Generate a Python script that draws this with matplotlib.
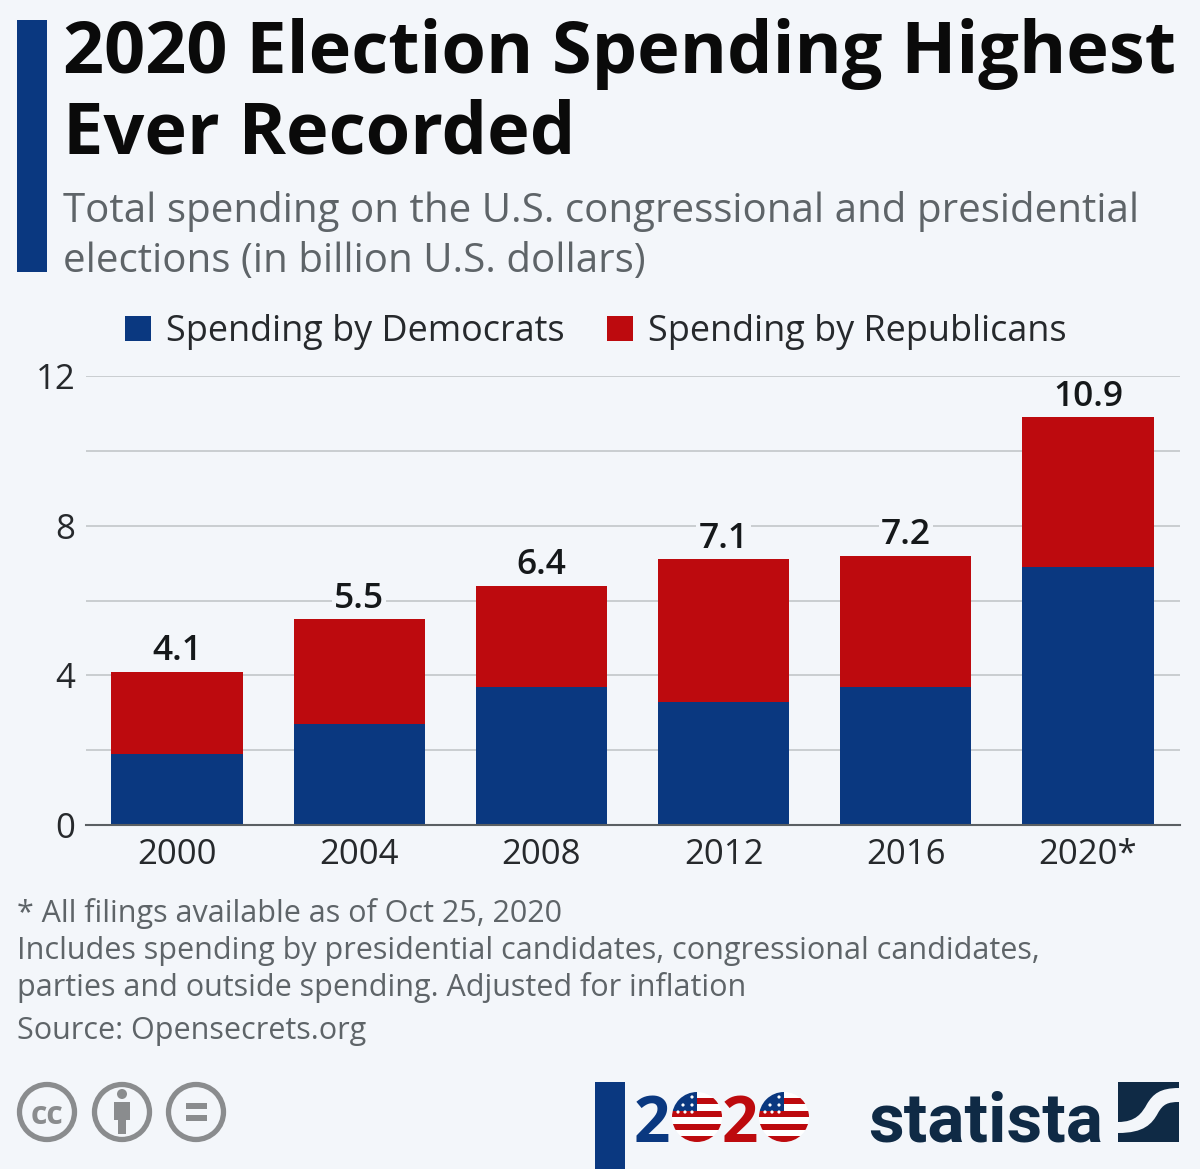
import matplotlib
matplotlib.use('Agg')
import numpy as np
import matplotlib.pyplot as plt
from matplotlib.patches import Rectangle, Circle, PathPatch
from matplotlib.path import Path

plt.rcParams['font.family'] = ['Open Sans', 'DejaVu Sans']

# data
years = ['2000', '2004', '2008', '2012', '2016', '2020*']
democrats = [1.9, 2.7, 3.7, 3.3, 3.7, 6.9]
republicans = [2.2, 2.8, 2.7, 3.8, 3.5, 4.0]
totals = ['4.1', '5.5', '6.4', '7.1', '7.2', '10.9']
y_ticks = [0, 2, 4, 6, 8, 10, 12]
y_labels = ['0', '', '4', '', '8', '', '12']

W, H = 1200, 1169
BG = '#f3f6fa'
BLUE = '#0a3880'
RED = '#bd0a0e'
DARK = '#0f2a45'
GREY = '#5e6468'

fig = plt.figure(figsize=(W / 100, H / 100), dpi=100, facecolor=BG)

# layer in pixels for the header, footer and logos
top = fig.add_axes([0, 0, 1, 1])
top.set_xlim(0, W)
top.set_ylim(H, 0)
top.axis('off')

ax = fig.add_axes([86 / W, 1 - 825 / H, (1180 - 86) / W, (825 - 376) / H])
ax.set_facecolor('none')
x = np.arange(len(years))
b1 = ax.bar(x, democrats, width=0.72, color=BLUE, zorder=3, label='Spending by Democrats')
b2 = ax.bar(x, republicans, width=0.72, bottom=democrats, color=RED, zorder=3, label='Spending by Republicans')
ax.set_xlim(-0.4995, 5.505)
ax.set_ylim(0, 12)
ax.set_yticks(y_ticks)
ax.set_yticklabels(y_labels)
ax.set_xticks(x)
ax.set_xticklabels(years)
ax.tick_params(axis='y', length=0, pad=7.5, labelsize=25, labelcolor='#26292c')
ax.tick_params(axis='x', length=0, pad=9.5, labelsize=25, labelcolor='#26292c')
ax.grid(axis='y', color='#c6cacd', linewidth=1.3, zorder=1)
ax.set_axisbelow(True)
for s in ['top', 'right', 'left']:
    ax.spines[s].set_visible(False)
ax.spines['bottom'].set_color('#5a5f63')
ax.spines['bottom'].set_linewidth(1.5)
ax.spines['bottom'].set_zorder(4)

for i in range(len(years)):
    ax.annotate(totals[i], (x[i], democrats[i] + republicans[i]), xytext=(0, 2.5),
                textcoords='offset points', ha='center', va='bottom', fontsize=25.5,
                fontweight='semibold', color='#15181a', zorder=5,
                bbox=dict(facecolor=BG, edgecolor='none', pad=1.5))

fig.legend(handles=[b1, b2], loc='center', bbox_to_anchor=(596 / W, 1 - 332 / H), ncol=2,
           frameon=False, fontsize=25.9, labelcolor='#26292c', handlelength=0.72, handleheight=0.72,
           handletextpad=0.42, columnspacing=1.19, borderpad=0, borderaxespad=0)

# header
top.add_patch(Rectangle((17, 20), 30, 252, color=BLUE, lw=0))
top.text(63, 46, '2020 Election Spending Highest', fontsize=51.8, fontweight='bold', color='#0a0a0a', va='center_baseline')
top.text(63, 126, 'Ever Recorded', fontsize=51.8, fontweight='bold', color='#0a0a0a', va='center_baseline')
top.text(63, 207, 'Total spending on the U.S. congressional and presidential', fontsize=29, color=GREY, va='center_baseline')
top.text(63, 257, 'elections (in billion U.S. dollars)', fontsize=29, color=GREY, va='center_baseline')

# footer notes
notes = [('* All filings available as of Oct 25, 2020', 910),
         ('Includes spending by presidential candidates, congressional candidates,', 947),
         ('parties and outside spending. Adjusted for inflation', 984),
         ('Source: Opensecrets.org', 1028)]
for txt, yy in notes:
    top.text(17, yy, txt, fontsize=22, color=GREY, va='center_baseline')

# licence icons
CC = '#8a8c8e'
for cx in [47, 122, 196]:
    top.add_patch(Circle((cx, 1112), 27.5, facecolor='none', edgecolor=CC, lw=3.8))
top.text(47, 1112, 'cc', fontsize=23, fontweight='bold', color=CC, ha='center', va='center_baseline')
top.add_patch(Circle((122, 1094), 5, color=CC, lw=0))
top.add_patch(Rectangle((114, 1102), 16, 18, color=CC, lw=0))
top.add_patch(Rectangle((118, 1118), 8, 16, color=CC, lw=0))
top.add_patch(Rectangle((186, 1103), 21, 6, color=CC, lw=0))
top.add_patch(Rectangle((186, 1115), 21, 6, color=CC, lw=0))

# 2020 logo
top.add_patch(Rectangle((595, 1082), 30, 87, color=BLUE, lw=0))
top.text(652, 1142, '2', fontsize=46, fontweight='bold', color=BLUE, ha='center', va='baseline')
top.text(740, 1142, '2', fontsize=46, fontweight='bold', color=RED, ha='center', va='baseline')
for cx in [697, 784]:
    clip = Circle((cx, 1117), 25, transform=top.transData)
    top.add_patch(Circle((cx, 1117), 25, color='#ffffff', lw=0))
    for yy, hh, x0 in [(1098, 6, cx), (1111, 6, cx - 26), (1124, 6, cx - 26), (1136, 6, cx - 26)]:
        r = Rectangle((x0, yy), cx + 26 - x0, hh, color=RED, lw=0)
        top.add_patch(r)
        r.set_clip_path(clip)
    c = Rectangle((cx - 26, 1091), 26, 20, color=BLUE, lw=0)
    top.add_patch(c)
    c.set_clip_path(clip)
    for dx, dy in [(-5, -20), (-14, -12), (-5, -12), (-19, -5), (-12, -5), (-5, -5)]:
        top.add_patch(Circle((cx + dx, 1117 + dy), 1.6, color='#ffffff', lw=0))

# statista logo
top.text(986, 1142, 'statista', fontsize=50, fontweight='bold', color=DARK, ha='center', va='baseline',
         family=['Roboto', 'Open Sans'])
top.add_patch(Rectangle((1118, 1082), 61, 60, color=DARK, lw=0))
swoosh = Path([(1118, 1122), (1136, 1122), (1142, 1113), (1147, 1104), (1153, 1094), (1160, 1088), (1179, 1088),
               (1179, 1102), (1168, 1102), (1163, 1104), (1158, 1113), (1152, 1124), (1144, 1133), (1118, 1133), (1118, 1122)],
              [Path.MOVETO, Path.CURVE4, Path.CURVE4, Path.CURVE4, Path.CURVE4, Path.CURVE4, Path.CURVE4,
               Path.LINETO, Path.CURVE4, Path.CURVE4, Path.CURVE4, Path.CURVE4, Path.CURVE4, Path.CURVE4, Path.CLOSEPOLY])
top.add_patch(PathPatch(swoosh, facecolor=BG, edgecolor='none'))

fig.savefig('out.png', dpi=100, facecolor=BG)
